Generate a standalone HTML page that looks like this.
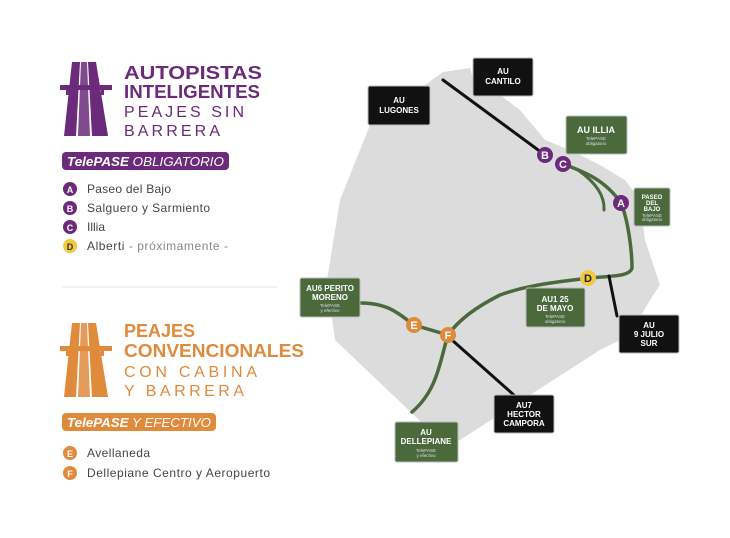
<!DOCTYPE html><html><head><style>
body{margin:0;width:730px;height:533px;background:#fff;overflow:hidden;font-family:"Liberation Sans",sans-serif}
</style></head><body>
<svg width="730" height="533" viewBox="0 0 730 533" xmlns="http://www.w3.org/2000/svg" font-family="Liberation Sans, sans-serif">
<g fill="#6b2a7a">
<polygon points="72,62 80,62 76,136 64,136"/><polygon points="88,62 96,62 108,136 92,136"/>
<polygon points="81,62 87,62 90,136 78,136" opacity=".85"/>
<rect x="60" y="85" width="52" height="5"/><rect x="66" y="90" width="3" height="5"/><rect x="101" y="90" width="3" height="5"/>
<text x="124" y="79" font-size="18" font-weight="bold" textLength="138" lengthAdjust="spacingAndGlyphs">AUTOPISTAS</text>
<text x="124" y="98" font-size="18" font-weight="bold" textLength="136" lengthAdjust="spacingAndGlyphs">INTELIGENTES</text>
<text x="124" y="117" font-size="16" textLength="120">PEAJES SIN</text>
<text x="124" y="136" font-size="16" textLength="96">BARRERA</text>
<rect x="62" y="152" width="167" height="18" rx="4"/>
</g>
<text x="67" y="166" font-size="13" fill="#fff" font-style="italic" textLength="157" lengthAdjust="spacingAndGlyphs"><tspan font-weight="bold">TelePASE</tspan> OBLIGATORIO</text>
<g font-size="12" fill="#444">
<circle cx="70" cy="189" r="7" fill="#6b2a7a"/><text x="70" y="193" fill="#fff" text-anchor="middle" font-size="9" font-weight="bold">A</text><text x="87" y="193" textLength="84">Paseo del Bajo</text>
<circle cx="70" cy="208" r="7" fill="#6b2a7a"/><text x="70" y="212" fill="#fff" text-anchor="middle" font-size="9" font-weight="bold">B</text><text x="87" y="212" textLength="123">Salguero y Sarmiento</text>
<circle cx="70" cy="227" r="7" fill="#6b2a7a"/><text x="70" y="231" fill="#fff" text-anchor="middle" font-size="9" font-weight="bold">C</text><text x="87" y="231">Illia</text>
<circle cx="70" cy="246" r="7" fill="#f0c93e"/><text x="70" y="250" fill="#333" text-anchor="middle" font-size="9" font-weight="bold">D</text><text x="87" y="250" textLength="141">Alberti <tspan fill="#888">- próximamente -</tspan></text>
</g>
<line x1="62" y1="287" x2="277" y2="287" stroke="#e4e4e4"/>
<g fill="#e08a3c">
<polygon points="72,323 80,323 76,397 64,397"/><polygon points="88,323 96,323 108,397 92,397"/>
<polygon points="81,323 87,323 90,397 78,397" opacity=".85"/>
<rect x="60" y="346" width="52" height="5"/><rect x="66" y="351" width="3" height="5"/><rect x="101" y="351" width="3" height="5"/>
<text x="124" y="337" font-size="18" font-weight="bold" textLength="71" lengthAdjust="spacingAndGlyphs">PEAJES</text>
<text x="124" y="357" font-size="18" font-weight="bold" textLength="180" lengthAdjust="spacingAndGlyphs">CONVENCIONALES</text>
<text x="124" y="377" font-size="16" textLength="133">CON CABINA</text>
<text x="124" y="396" font-size="16" textLength="120">Y BARRERA</text>
<rect x="62" y="413" width="154" height="18" rx="4"/>
</g>
<text x="67" y="427" font-size="13" fill="#fff" font-style="italic" textLength="144" lengthAdjust="spacingAndGlyphs"><tspan font-weight="bold">TelePASE</tspan> Y EFECTIVO</text>
<g font-size="12" fill="#444">
<circle cx="70" cy="453" r="7" fill="#e08a3c"/><text x="70" y="457" fill="#fff" text-anchor="middle" font-size="9" font-weight="bold">E</text><text x="87" y="457" textLength="63">Avellaneda</text>
<circle cx="70" cy="473" r="7" fill="#e08a3c"/><text x="70" y="477" fill="#fff" text-anchor="middle" font-size="9" font-weight="bold">F</text><text x="87" y="477" textLength="183">Dellepiane Centro y Aeropuerto</text>
</g>
<polygon fill="#dcdcdc" points="443,72 470,68 475,85 500,95 520,110 545,140 570,150 600,165 625,180 640,200 645,240 655,270 660,285 650,300 630,335 600,350 460,440 440,440 335,340 327,280 340,200 370,125"/>
<g fill="none" stroke-linecap="round">
<line x1="443" y1="80" x2="545" y2="155" stroke="#111" stroke-width="3"/>
<path d="M563,164 C585,172 605,180 621,203 C628,220 632,250 632,268 C630,276 615,276 588,278 C560,282 530,284 500,295 C470,310 455,325 448,335" stroke="#4a6a3c" stroke-width="3.5"/>
<path d="M578,170 C595,182 605,195 604,210" stroke="#4a6a3c" stroke-width="3"/>
<path d="M360,303 C390,303 400,315 414,325 L448,335" stroke="#4a6a3c" stroke-width="3.5"/>
<path d="M448,335 C440,360 438,390 412,412" stroke="#4a6a3c" stroke-width="3.5"/>
<line x1="452" y1="340" x2="515" y2="396" stroke="#111" stroke-width="3"/>
<line x1="609" y1="276" x2="617" y2="316" stroke="#111" stroke-width="3"/>
</g>
<g font-size="11" font-weight="bold" text-anchor="middle">
<circle cx="545" cy="155" r="8" fill="#6b2a7a"/><text x="545" y="159" fill="#fff">B</text>
<circle cx="563" cy="164" r="8" fill="#6b2a7a"/><text x="563" y="168" fill="#fff">C</text>
<circle cx="621" cy="203" r="8" fill="#6b2a7a"/><text x="621" y="207" fill="#fff">A</text>
<circle cx="588" cy="278" r="8" fill="#f0c93e"/><text x="588" y="282" fill="#222">D</text>
<circle cx="414" cy="325" r="8" fill="#e08a3c"/><text x="414" y="329" fill="#fff">E</text>
<circle cx="448" cy="335" r="8" fill="#e08a3c"/><text x="448" y="339" fill="#fff">F</text>
</g>
<g stroke="#bbb" stroke-width="1">
<rect x="473" y="58" width="60" height="38" rx="2" fill="#111"/>
<rect x="368" y="86" width="62" height="39" rx="2" fill="#111"/>
<rect x="566" y="116" width="61" height="38" rx="2" fill="#4a6a3c"/>
<rect x="634" y="188" width="36" height="38" rx="2" fill="#4a6a3c"/>
<rect x="526" y="288" width="59" height="39" rx="2" fill="#4a6a3c"/>
<rect x="619" y="315" width="60" height="38" rx="2" fill="#111"/>
<rect x="300" y="278" width="60" height="39" rx="2" fill="#4a6a3c"/>
<rect x="395" y="422" width="63" height="40" rx="2" fill="#4a6a3c"/>
<rect x="494" y="395" width="60" height="38" rx="2" fill="#111"/>
</g>
<g fill="#fff" font-weight="bold" font-size="8" text-anchor="middle">
<text x="503" y="74">AU</text><text x="503" y="84">CANTILO</text>
<text x="399" y="103">AU</text><text x="399" y="113">LUGONES</text>
<text x="596" y="133" font-size="9">AU ILLIA</text>
<text x="652" y="199" font-size="6">PASEO</text><text x="652" y="205" font-size="6">DEL</text><text x="652" y="211" font-size="6">BAJO</text>
<text x="555" y="302">AU1 25</text><text x="555" y="311">DE MAYO</text>
<text x="649" y="328">AU</text><text x="649" y="337">9 JULIO</text><text x="649" y="346">SUR</text>
<text x="330" y="291">AU6 PERITO</text><text x="330" y="300">MORENO</text>
<text x="426" y="435">AU</text><text x="426" y="444">DELLEPIANE</text>
<text x="524" y="408">AU7</text><text x="524" y="417">HECTOR</text><text x="524" y="426">CAMPORA</text>
</g>
<g fill="#dde" font-size="4.5" text-anchor="middle">
<text x="596" y="140">TelePASE</text><text x="596" y="145">obligatorio</text>
<text x="652" y="217">TelePASE</text><text x="652" y="221">obligatorio</text>
<text x="555" y="318">TelePASE</text><text x="555" y="323">obligatorio</text>
<text x="330" y="307">TelePASE</text><text x="330" y="312">y efectivo</text>
<text x="426" y="452">TelePASE</text><text x="426" y="457">y efectivo</text>
</g>
</svg>
</body></html>
